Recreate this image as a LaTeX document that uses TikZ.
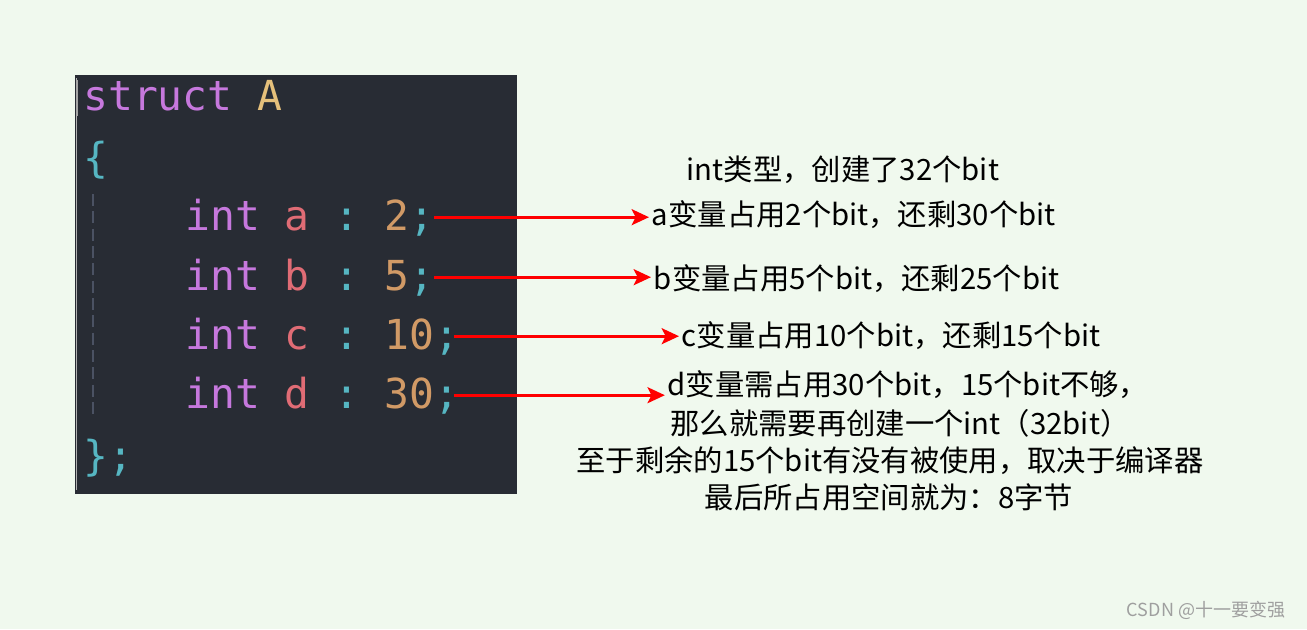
\documentclass[tikz,border=0pt]{standalone}
\usepackage{fontspec}
\usepackage{xcolor}
\usepackage{tikz}
\usetikzlibrary{arrows.meta, positioning}
\newfontfamily\cjk{Noto Sans CJK SC}
\newfontfamily\codefont{DejaVu Sans Mono}
\definecolor{pagebg}{RGB}{240,249,238}
\definecolor{editorbg}{RGB}{40,44,52}
\definecolor{kwpurple}{RGB}{198,120,221}
\definecolor{typeyellow}{RGB}{229,192,123}
\definecolor{puncyan}{RGB}{86,182,194}
\definecolor{varred}{RGB}{224,108,117}
\definecolor{numorange}{RGB}{209,154,102}
\definecolor{guidegray}{RGB}{75,82,99}
\newcommand{\kw}[1]{\textcolor{kwpurple}{#1}}
\newcommand{\ty}[1]{\textcolor{typeyellow}{#1}}
\newcommand{\pc}[1]{\textcolor{puncyan}{#1}}
\newcommand{\vr}[1]{\textcolor{varred}{#1}}
\newcommand{\nm}[1]{\textcolor{numorange}{#1}}
\frenchspacing

\begin{document}
\begin{tikzpicture}[x=0.75pt, y=-0.75pt,
      code/.style={font=\codefont\fontsize{31}{37}\selectfont, inner sep=0pt,
                   anchor=base west},
      note/.style={font=\cjk\fontsize{22}{26}\selectfont, inner sep=2pt},
      redarr/.style={-{Stealth[length=13pt,width=12pt,inset=3pt]},
                     line width=2pt, red}
    ]
    % page and editor background
    \fill[pagebg] (0,0) rectangle (1307,629);
    \fill[editorbg] (75,75) rectangle (517,494);
    \draw[gray!60, line width=0.8pt] (76.5,78) -- (76.5,490);
    \draw[gray!70, line width=2pt] (77,80) -- (77,116);
    \draw[guidegray, line width=1.5pt, dash pattern=on 9pt off 4pt] (93,194) -- (93,415);

    % code lines
    \node[code] (struct) at (83,110) {\kw{struct} \ty{A}};
    \node[code] (lbrace) at (83,172) {\pc{\{}};
    \node[code] (codea) at (185,230) {\kw{int} \vr{a} \pc{:} \nm{2}\pc{;}};
    \node[code] (codeb) at (185,290) {\kw{int} \vr{b} \pc{:} \nm{5}\pc{;}};
    \node[code] (codec) at (185,349) {\kw{int} \vr{c} \pc{:} \nm{10}\pc{;}};
    \node[code] (coded) at (185,408) {\kw{int} \vr{d} \pc{:} \nm{30}\pc{;}};
    \node[code] (rbrace) at (83,470) {\pc{\};}};

    % notes
    \node[note] (title) at (843,170) {int类型，创建了32个bit};
    \node[note, anchor=west] (texta) at (649,215) {a变量占用2个bit，还剩30个bit};
    \node[note, anchor=west] (textb) at (651,279) {b变量占用5个bit，还剩25个bit};
    \node[note, anchor=west] (textc) at (679,336) {c变量占用10个bit，还剩15个bit};
    \node[note] (textd1) at (908,385) {d变量需占用30个bit，15个bit不够，};
    \node[note] (textd2) at (900,423) {那么就需要再创建一个int（32bit）};
    \node[note] (textd3) at (890,461) {至于剩余的15个bit有没有被使用，取决于编译器};
    \node[note] (textd4) at (889,497) {最后所占用空间就为：8字节};

    \draw[redarr] (codea.east) -- (codea.east -| texta.west);
    \draw[redarr] (codeb.east) -- (codeb.east -| textb.west);
    \draw[redarr] ([xshift=-4pt]codec.east) -- (codec.east -| textc.west);
    \draw[redarr] ([xshift=-4pt]coded.east) -- (coded.east -| textd1.west);

    \node[font=\cjk\fontsize{13.5}{16}\selectfont, text=gray!75] (mark) at (1206,610) {CSDN @十一要变强};
  \end{tikzpicture}
\end{document}
